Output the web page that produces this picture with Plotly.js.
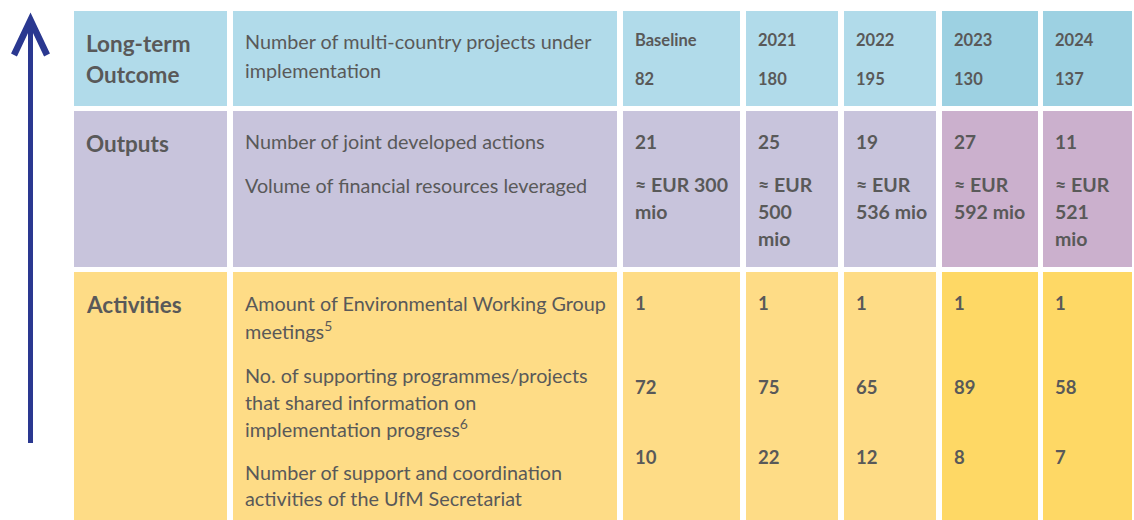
<!DOCTYPE html>
<html>
<head>
<meta charset="utf-8">
<script src="https://cdn.plot.ly/plotly-3.0.1.min.js"></script>
<style>html,body{margin:0;padding:0;background:#fff;}#chart{width:1134px;height:520px;}</style>
</head>
<body>
<div id="chart"></div>
<script>
// ---- data ----
const levels = ['Long-term<br>Outcome', 'Outputs', 'Activities'];
const outcomeIndicators = ['Number of multi-country projects under<br>implementation'];
const outputIndicators = ['Number of joint developed actions', 'Volume of financial resources leveraged'];
const activityIndicators = [
  'Amount of Environmental Working Group<br>meetings<sup>5</sup>',
  'No. of supporting programmes/projects<br>that shared information on<br>implementation progress<sup>6</sup>',
  'Number of support and coordination<br>activities of the UfM Secretariat'
];
const periods = ['Baseline', '2021', '2022', '2023', '2024'];
const multiCountryProjects = [82, 180, 195, 130, 137];
const jointActions = [21, 25, 19, 27, 11];
const financialResources = ['≈ EUR 300<br>mio', '≈ EUR<br>500<br>mio', '≈ EUR<br>536 mio', '≈ EUR<br>592 mio', '≈ EUR<br>521<br>mio'];
const ewgMeetings = [1, 1, 1, 1, 1];
const sharingProgrammes = [72, 75, 65, 89, 58];
const ufmActivities = [10, 22, 12, 8, 7];

// ---- layout geometry ----
const colEdges = [[74, 227], [233, 617], [623, 740], [746, 838], [844, 936], [942, 1038], [1043, 1132]];
const rowEdges = [[11, 106], [111, 267], [272, 521]];
const textPad = 10;
const rowColors = [
  ['#b1dbea', '#9dd1e2'],
  ['#c8c4dc', '#cbb0cd'],
  ['#fedc86', '#fed865']
];
const textColor = '#595959';
const FONT = 'Lato, "Open Sans", sans-serif';

const shapes = [];
const annotations = [];

rowEdges.forEach((r, ri) => {
  colEdges.forEach((c, ci) => {
    const dark = ci >= 5;
    shapes.push({
      type: 'rect', xref: 'x', yref: 'y', x0: c[0], x1: c[1], y0: r[0], y1: r[1],
      fillcolor: rowColors[ri][dark ? 1 : 0], line: {width: 0}, layer: 'below'
    });
  });
});

// arrow
const arrowColor = '#2a3890';
shapes.push({type: 'line', xref: 'x', yref: 'y', x0: 30.5, x1: 30.5, y0: 443, y1: 22, line: {color: arrowColor, width: 5}});
shapes.push({type: 'path', xref: 'x', yref: 'y', path: 'M 14 55 L 30.5 20 L 47 55', line: {color: arrowColor, width: 6.5}});

function addText(x, y, text, size, bold, gap) {
  String(text).split('<br>').forEach((line, i) => {
    annotations.push({
      xref: 'x', yref: 'y', x: x, y: y + i * gap, text: line, showarrow: false,
      xanchor: 'left', yanchor: 'middle', align: 'left',
      font: {family: FONT, size: size, color: textColor, weight: bold ? 700 : 400}
    });
  });
}
const left = ci => colEdges[ci][0] + textPad;

// level labels
addText(left(0), 43, levels[0], 22.5, true, 31);
addText(left(0), 143, levels[1], 22.5, true, 30);
addText(left(0), 304, levels[2], 22.5, true, 30);

// indicators
addText(left(1), 41, outcomeIndicators[0], 19.8, false, 29);
addText(left(1), 141, outputIndicators[0], 19.8, false, 27);
addText(left(1), 185, outputIndicators[1], 19.8, false, 27);
addText(left(1), 303, activityIndicators[0], 19.8, false, 27);
addText(left(1), 375, activityIndicators[1], 19.8, false, 26.5);
addText(left(1), 472, activityIndicators[2], 19.8, false, 26);

// period columns
periods.forEach((p, i) => {
  const ci = i + 2;
  addText(left(ci), 40, p, 16.5, true, 0);
  addText(left(ci), 79, multiCountryProjects[i], 16.5, true, 0);
  addText(left(ci), 141, jointActions[i], 19, true, 0);
  addText(left(ci), 184, financialResources[i], 19.5, true, 27);
  addText(left(ci), 303, ewgMeetings[i], 18.5, true, 0);
  addText(left(ci), 387, sharingProgrammes[i], 18.5, true, 0);
  addText(left(ci), 457, ufmActivities[i], 18.5, true, 0);
});

const layout = {
  width: 1134, height: 520,
  margin: {l: 0, r: 0, t: 0, b: 0},
  paper_bgcolor: '#ffffff', plot_bgcolor: '#ffffff',
  xaxis: {range: [0, 1134], visible: false, fixedrange: true},
  yaxis: {range: [520, 0], visible: false, fixedrange: true},
  shapes: shapes,
  annotations: annotations,
  showlegend: false
};

Plotly.newPlot('chart', [{x: [], y: [], type: 'scatter', mode: 'markers', hoverinfo: 'skip'}], layout, {displayModeBar: false, staticPlot: true});
</script>
</body>
</html>
